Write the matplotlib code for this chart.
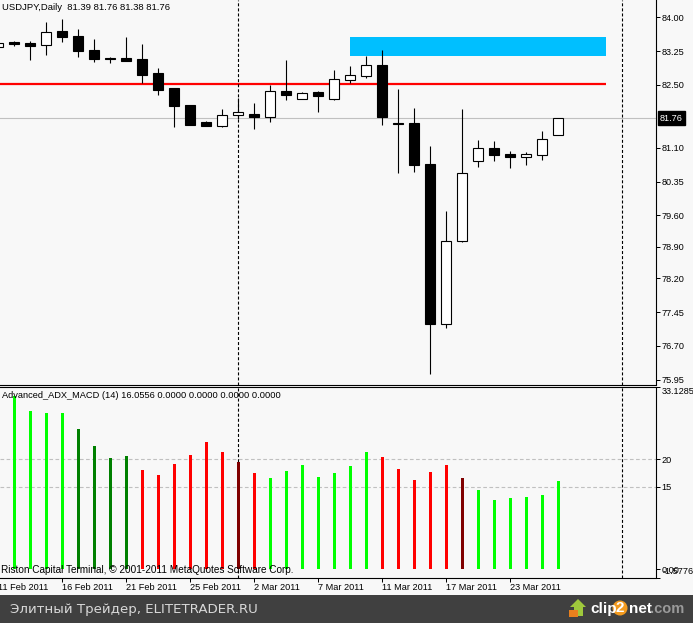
import matplotlib
matplotlib.use("Agg")
import matplotlib.pyplot as plt
from matplotlib.patches import Rectangle, Polygon, Circle

W, H = 693, 623
BG = "#f8f8f8"
FONT = "Liberation Sans"

# daily candles, first one is cut by the left edge
idx = list(range(-1, 35))
opens = [83.33, 83.45, 83.43, 83.38, 83.70, 83.59, 83.27, 83.10, 83.10, 83.07, 82.76, 82.43,
         82.05, 81.67, 81.59, 81.84, 81.85, 81.79, 82.36, 82.19, 82.34, 82.19, 82.61, 82.70,
         82.94, 81.65, 81.65, 80.74, 77.19, 79.04, 80.81, 81.10, 80.96, 80.90, 80.95, 81.39]
highs = [83.44, 83.47, 83.47, 83.90, 83.96, 83.74, 83.52, 83.12, 83.56, 83.41, 82.87, 82.43,
         82.05, 81.70, 81.96, 82.21, 82.10, 82.50, 83.05, 82.34, 82.36, 82.83, 82.92, 83.14,
         83.27, 82.41, 81.99, 81.13, 79.70, 81.96, 81.27, 81.25, 81.03, 81.01, 81.47, 81.76]
lows = [83.32, 83.37, 83.05, 83.16, 83.45, 83.12, 83.01, 82.99, 83.03, 82.53, 82.27, 81.56,
        81.61, 81.59, 81.56, 81.73, 81.52, 81.67, 82.16, 82.19, 81.90, 82.16, 82.54, 82.65,
        81.61, 80.54, 80.56, 76.07, 77.10, 79.01, 80.67, 80.81, 80.65, 80.72, 80.83, 81.38]
closes = [83.42, 83.41, 83.37, 83.67, 83.57, 83.26, 83.07, 83.07, 83.03, 82.72, 82.39, 82.03,
          81.61, 81.59, 81.84, 81.89, 81.79, 82.36, 82.27, 82.31, 82.25, 82.62, 82.71, 82.93,
          81.79, 81.64, 80.72, 77.19, 79.04, 80.53, 81.09, 80.94, 80.90, 80.96, 81.29, 81.76]

# indicator histogram
adx = [31.5, 28.78, 28.42, 28.42, 25.5, 22.4, 20.22, 20.58, 18.03, 17.12, 19.13, 20.77,
       23.13, 21.31, 19.49, 17.49, 16.58, 17.85, 18.94, 16.76, 17.49, 18.76, 21.31, 20.4,
       18.21, 16.21, 17.67, 18.94, 16.58, 14.39, 12.57, 12.93, 13.11, 13.48, 16.03]
adx_colors = ["#00ff00"] * 4 + ["#008000"] * 4 + ["#ff0000"] * 6 + ["#800000"] + ["#ff0000"] \
    + ["#00ff00"] * 7 + ["#ff0000"] * 5 + ["#800000"] + ["#00ff00"] * 6

price_ticks = [84.00, 83.25, 82.50, 81.10, 80.35, 79.60, 78.90, 78.20, 77.45, 76.70, 75.95]
adx_ticks = [33.1285, 20, 15, 0, -1.5776]
adx_tick_labels = ["33.1285", "20", "15", "0.00", ""]
date_pos = [-1, 3, 7, 11, 15, 19, 23, 27, 31]
date_labels = ["11 Feb 2011", "16 Feb 2011", "21 Feb 2011", "25 Feb 2011", "2 Mar 2011",
               "7 Mar 2011", "11 Mar 2011", "17 Mar 2011", "23 Mar 2011"]

last_price = 81.76
red_level = 82.52
zone_low, zone_high = 83.14, 83.56
zone_start, zone_end = 21, 37
period_seps = [14, 38]


def px_axes(fig, left, top, right, bottom):
    return fig.add_axes([left / W, 1 - bottom / H, (right - left) / W, (bottom - top) / H])


plt.rcParams["font.family"] = FONT
plt.rcParams["font.size"] = 6.6

fig = plt.figure(figsize=(W / 100, H / 100), dpi=100, facecolor=BG)
ax = px_axes(fig, 0, 0, 655.5, 385)
ax2 = px_axes(fig, 0, 387, 655.5, 578)
foot = px_axes(fig, 0, 595, W, H)

xlim = (-0.894, 40.07)
for a in (ax, ax2):
    a.set_facecolor(BG)
    a.set_xlim(*xlim)
    a.spines["left"].set_visible(False)
    a.spines["top"].set_visible(False)
    a.spines["right"].set_linewidth(0.8)
    a.spines["bottom"].set_linewidth(0.8)
    a.yaxis.tick_right()
    a.tick_params(axis="y", length=3, width=0.72, pad=1.2, labelsize=6.6)
    for x in period_seps:
        a.axvline(x, color="black", lw=0.8, ls=(0, (2.7, 1.85)), zorder=2)
ax2.spines["top"].set_visible(True)
ax2.spines["top"].set_linewidth(0.8)

# price pane
ax.set_ylim(75.83, 84.385)
ax.set_xticks([])
ax.set_yticks(price_ticks)
ax.set_yticklabels([f"{t:.2f}" for t in price_ticks])
ax.axhline(last_price, color="#c0c0c0", lw=0.8, zorder=1)
ax.add_patch(Rectangle((zone_start, zone_low), zone_end - zone_start, zone_high - zone_low,
                       fc="#00bfff", ec="none", zorder=1.5))
ax.plot([xlim[0], zone_end], [red_level, red_level], color="#ff0000", lw=1.6, zorder=1.6,
        solid_capstyle="butt")
ax.vlines(idx, lows, highs, color="black", lw=0.8, zorder=3, snap=True)
for i, o, c in zip(idx, opens, closes):
    ax.bar(i, abs(c - o), bottom=min(o, c), width=0.62, fc="white" if c > o else "black",
           ec="black", lw=0.8, zorder=4)
ax.text(2 / 655.5, 1 - 7 / 385, "USDJPY,Daily  81.39 81.76 81.38 81.76", transform=ax.transAxes,
        va="center", ha="left", fontsize=6.8)
ax.text(1.007, (last_price - 75.83) / (84.385 - 75.83), f"{last_price:.2f}", transform=ax.transAxes,
        va="center", ha="left", color="white", clip_on=False,
        bbox=dict(fc="black", ec="black", pad=1.8))

# indicator pane
ax2.set_ylim(-1.5776, 33.1285)
ax2.axhline(20, color="#c0c0c0", lw=0.8, ls=(0, (3.3, 2.2)), zorder=1)
ax2.axhline(15, color="#c0c0c0", lw=0.8, ls=(0, (3.3, 2.2)), zorder=1)
ax2.bar(range(len(adx)), adx, width=0.19, color=adx_colors, zorder=3)
ax2.set_yticks(adx_ticks)
ax2.set_yticklabels(adx_tick_labels)
labels = ax2.get_yticklabels()
labels[0].set_verticalalignment("top")
ax2.annotate("-1.5776", (1, 0), xycoords="axes fraction", xytext=(5, 5), textcoords="offset points",
             ha="left", va="center", annotation_clip=False)
ax2.set_xticks(date_pos[1:])
ax2.set_xticklabels([])
ax2.tick_params(axis="x", length=3, width=0.72)
for x, lab in zip(date_pos, date_labels):
    ax2.annotate(lab, (x, 0), xycoords=("data", "axes fraction"), xytext=(-0.5, -6.7),
                 textcoords="offset points", ha="left", va="center", annotation_clip=False, fontsize=6.6)
ax2.text(2 / 655.5, 1 - 9 / 191, "Advanced_ADX_MACD (14) 16.0556 0.0000 0.0000 0.0000 0.0000",
         transform=ax2.transAxes, va="center", ha="left", zorder=5, fontsize=6.7)
ax2.text(1 / 655.5, 1 - 183 / 191, "Riston Capital Terminal, © 2001-2011 MetaQuotes Software Corp.",
         transform=ax2.transAxes, va="center", ha="left", zorder=5, fontsize=7.2)

# footer strip
foot.set_xlim(0, W)
foot.set_ylim(H, 595)
foot.axis("off")
foot.add_patch(Rectangle((0, 595), W, 28, fc="#404040", ec="none"))
foot.text(10, 609, "Элитный Трейдер, ELITETRADER.RU", color="#d8d8d8", fontsize=9.6,
          family="DejaVu Sans", va="center", ha="left")
foot.add_patch(Polygon([[578, 599], [586, 607], [583, 607], [583, 616], [574, 616], [574, 607], [570, 607]],
                       fc="#9fc93c", ec="none"))
foot.add_patch(Rectangle((569, 610), 9, 7, fc="#e8801e", ec="none"))
foot.text(590, 609, "clip", color="white", fontsize=11, fontweight="bold", va="center", ha="left")
foot.add_patch(Circle((620, 608), 7.5, fc="#f39a1e", ec="none"))
foot.text(620, 608, "2", color="white", fontsize=11, fontweight="bold", va="center", ha="center")
foot.text(629, 609, "net", color="white", fontsize=11, fontweight="bold", va="center", ha="left")
foot.text(650, 609, ".com", color="#9a9a9a", fontsize=10.5, fontweight="bold", va="center", ha="left")

fig.savefig("out.png", dpi=100, facecolor=BG)
